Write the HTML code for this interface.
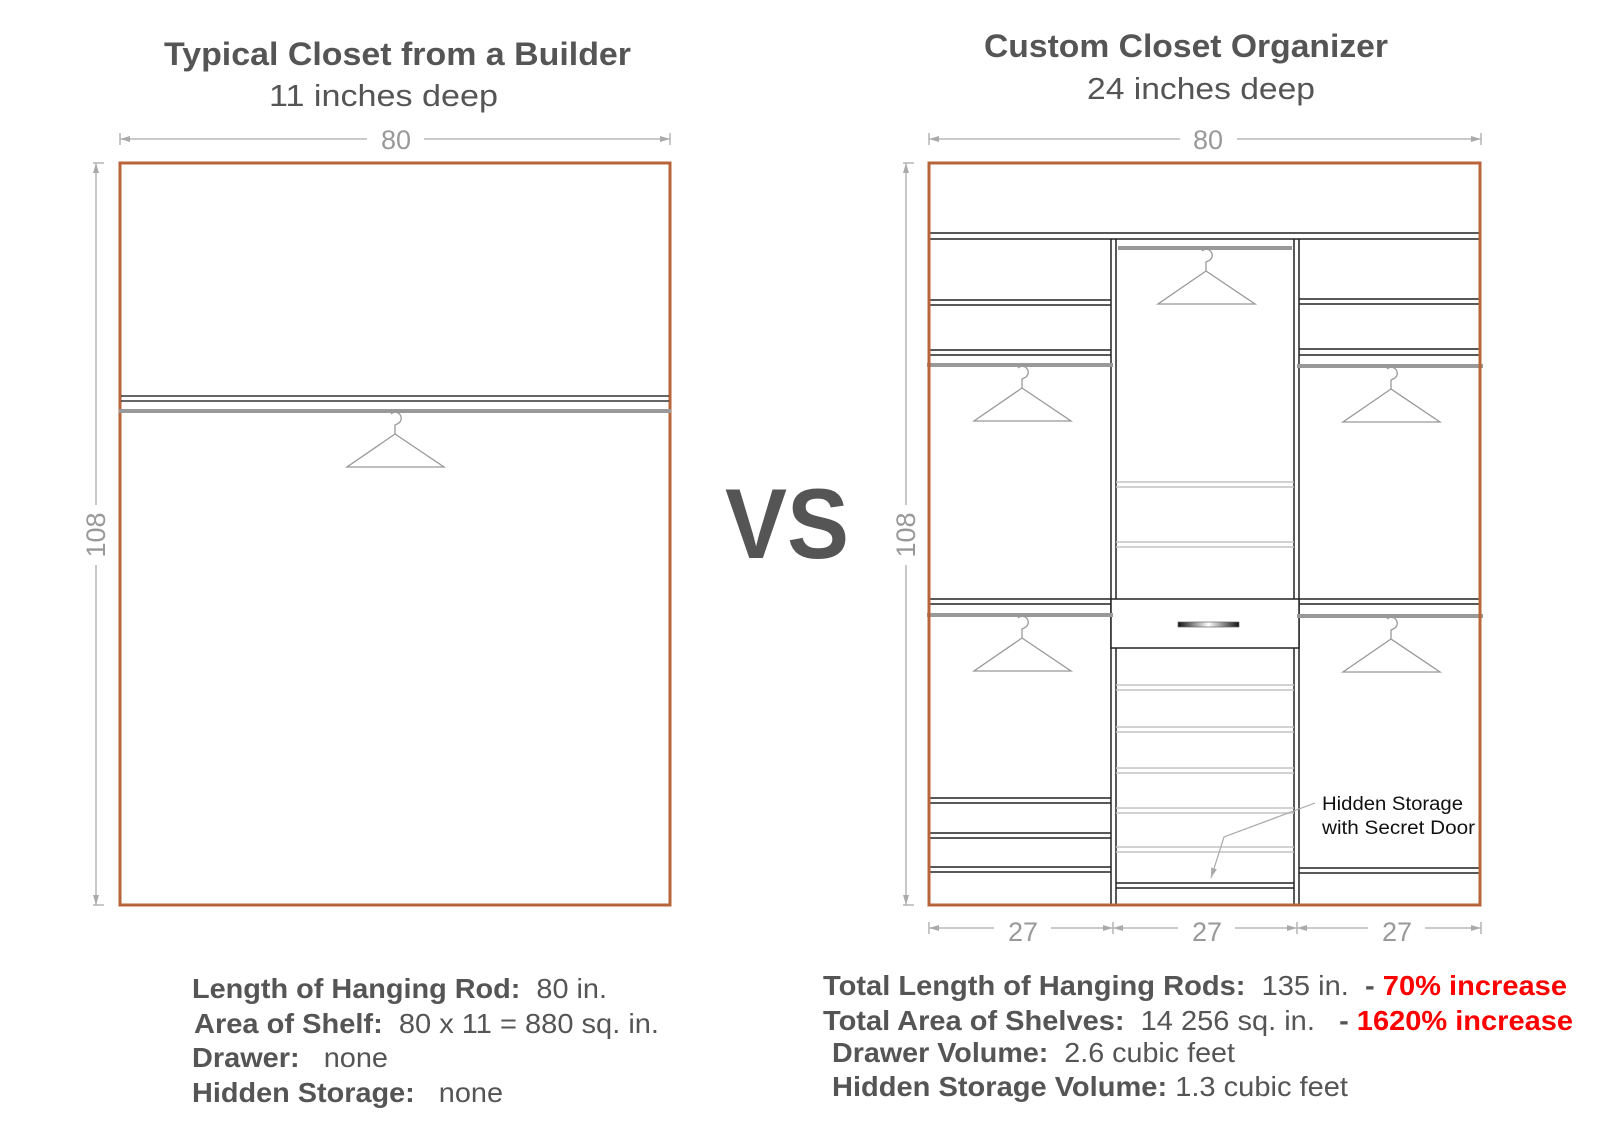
<!DOCTYPE html>
<html><head><meta charset="utf-8"><style>
html,body{margin:0;padding:0;background:#fff;}
svg{display:block;}
text{font-family:"Liberation Sans",Arial,sans-serif;white-space:pre;}
</style></head><body>
<svg width="1600" height="1143" viewBox="0 0 1600 1143" xmlns="http://www.w3.org/2000/svg" xml:space="preserve">
<defs>
<g id="hg" fill="none" stroke="#999" stroke-width="1.3">
<path d="M -4 2 A 6 6 0 1 1 2 12 L 0 13 L 0 22"/>
<path d="M 0 22 L -48 55 L 49 55 Z"/>
</g>
<linearGradient id="hd" x1="0" x2="1" y1="0" y2="0">
<stop offset="0" stop-color="#111"/><stop offset="0.5" stop-color="#fff"/><stop offset="1" stop-color="#111"/>
</linearGradient>
<marker id="ar" viewBox="0 0 10 6" refX="10" refY="3" markerWidth="14" markerHeight="6" markerUnits="userSpaceOnUse" orient="auto"><path d="M0 0 L10 3 L0 6 Z" fill="#aaa"/></marker>
</defs>

<text x="164" y="65" font-size="32" font-weight="bold" fill="#555" textLength="467" lengthAdjust="spacingAndGlyphs">Typical Closet from a Builder</text>
<text x="269" y="106" font-size="31" fill="#555" textLength="229" lengthAdjust="spacingAndGlyphs">11 inches deep</text>
<text x="984" y="57" font-size="32" font-weight="bold" fill="#555" textLength="404" lengthAdjust="spacingAndGlyphs">Custom Closet Organizer</text>
<text x="1087" y="99" font-size="31" fill="#555" textLength="228" lengthAdjust="spacingAndGlyphs">24 inches deep</text>

<text x="787" y="558" font-size="99" font-weight="bold" fill="#555" text-anchor="middle" textLength="124" lengthAdjust="spacingAndGlyphs">VS</text>

<g stroke="#aaa" stroke-width="1.3" fill="none">
<line x1="120" y1="133" x2="120" y2="145"/><line x1="670" y1="133" x2="670" y2="145"/>
<line x1="367" y1="139" x2="120" y2="139" marker-end="url(#ar)"/>
<line x1="424" y1="139" x2="670" y2="139" marker-end="url(#ar)"/>
<line x1="93" y1="163" x2="104" y2="163"/><line x1="93" y1="905" x2="104" y2="905"/>
<line x1="96" y1="505" x2="96" y2="163" marker-end="url(#ar)"/>
<line x1="96" y1="565" x2="96" y2="905" marker-end="url(#ar)"/>
<line x1="929" y1="133" x2="929" y2="145"/><line x1="1481" y1="133" x2="1481" y2="145"/>
<line x1="1180" y1="139" x2="929" y2="139" marker-end="url(#ar)"/>
<line x1="1237" y1="139" x2="1481" y2="139" marker-end="url(#ar)"/>
<line x1="903" y1="163" x2="914" y2="163"/><line x1="903" y1="905" x2="914" y2="905"/>
<line x1="906" y1="505" x2="906" y2="163" marker-end="url(#ar)"/>
<line x1="906" y1="565" x2="906" y2="905" marker-end="url(#ar)"/>
<line x1="929" y1="922" x2="929" y2="934"/><line x1="1113" y1="922" x2="1113" y2="934"/><line x1="1297" y1="922" x2="1297" y2="934"/><line x1="1481" y1="922" x2="1481" y2="934"/>
<line x1="994" y1="928" x2="929" y2="928" marker-end="url(#ar)"/>
<line x1="1051" y1="928" x2="1113" y2="928" marker-end="url(#ar)"/>
<line x1="1178" y1="928" x2="1113" y2="928" marker-end="url(#ar)"/>
<line x1="1235" y1="928" x2="1297" y2="928" marker-end="url(#ar)"/>
<line x1="1368" y1="928" x2="1297" y2="928" marker-end="url(#ar)"/>
<line x1="1425" y1="928" x2="1481" y2="928" marker-end="url(#ar)"/>
</g>
<g font-size="27" fill="#999" text-anchor="middle">
<text x="396" y="149">80</text>
<text x="1208" y="149">80</text>
<text x="1023" y="941">27</text>
<text x="1207" y="941">27</text>
<text x="1397" y="941">27</text>
<text transform="translate(105 535) rotate(-90)" x="0" y="0">108</text>
<text transform="translate(915 535) rotate(-90)" x="0" y="0">108</text>
</g>

<rect x="120" y="163" width="550" height="742" fill="none" stroke="#b8643a" stroke-width="3"/>
<g stroke="#333" stroke-width="1.5">
<line x1="121" y1="396" x2="669" y2="396"/><line x1="121" y1="401" x2="669" y2="401"/>
</g>
<line x1="119" y1="411" x2="671" y2="411" stroke="#999" stroke-width="4"/>
<use href="#hg" x="395" y="412"/>

<g stroke="#222" stroke-width="1.5" fill="none">
<line x1="929" y1="233" x2="1480" y2="233"/><line x1="929" y1="239" x2="1480" y2="239"/>
<line x1="1111" y1="239" x2="1111" y2="905"/><line x1="1116" y1="239" x2="1116" y2="599"/><line x1="1116" y1="648" x2="1116" y2="905"/>
<line x1="1294" y1="239" x2="1294" y2="599"/><line x1="1294" y1="648" x2="1294" y2="905"/><line x1="1299" y1="239" x2="1299" y2="905"/>
<line x1="929" y1="300" x2="1111" y2="300"/><line x1="929" y1="305" x2="1111" y2="305"/>
<line x1="929" y1="350" x2="1111" y2="350"/><line x1="929" y1="355" x2="1111" y2="355"/>
<line x1="929" y1="599" x2="1111" y2="599"/><line x1="929" y1="604" x2="1111" y2="604"/>
<line x1="929" y1="798" x2="1111" y2="798"/><line x1="929" y1="803" x2="1111" y2="803"/>
<line x1="929" y1="833" x2="1111" y2="833"/><line x1="929" y1="838" x2="1111" y2="838"/>
<line x1="929" y1="867" x2="1111" y2="867"/><line x1="929" y1="872" x2="1111" y2="872"/>
<line x1="1299" y1="299" x2="1480" y2="299"/><line x1="1299" y1="304" x2="1480" y2="304"/>
<line x1="1299" y1="349" x2="1480" y2="349"/><line x1="1299" y1="355" x2="1480" y2="355"/>
<line x1="1299" y1="599" x2="1480" y2="599"/><line x1="1299" y1="604" x2="1480" y2="604"/>
<line x1="1299" y1="868" x2="1480" y2="868"/><line x1="1299" y1="873" x2="1480" y2="873"/>
<line x1="1116" y1="883" x2="1294" y2="883"/><line x1="1116" y1="888" x2="1294" y2="888"/>
<rect x="1111" y="599" width="188" height="49" fill="#fff"/>
</g>
<g stroke="#c4c4c4" stroke-width="1.5">
<line x1="1116" y1="482" x2="1294" y2="482"/><line x1="1116" y1="487" x2="1294" y2="487"/>
<line x1="1116" y1="542" x2="1294" y2="542"/><line x1="1116" y1="547" x2="1294" y2="547"/>
<line x1="1116" y1="685" x2="1294" y2="685"/><line x1="1116" y1="690" x2="1294" y2="690"/>
<line x1="1116" y1="727" x2="1294" y2="727"/><line x1="1116" y1="732" x2="1294" y2="732"/>
<line x1="1116" y1="768" x2="1294" y2="768"/><line x1="1116" y1="773" x2="1294" y2="773"/>
<line x1="1116" y1="808" x2="1294" y2="808"/><line x1="1116" y1="813" x2="1294" y2="813"/>
<line x1="1116" y1="847" x2="1294" y2="847"/><line x1="1116" y1="852" x2="1294" y2="852"/>
</g>
<rect x="1178" y="622" width="61" height="5" fill="url(#hd)" stroke="#666" stroke-width="0.7"/>
<g stroke="#999" stroke-width="4">
<line x1="1118" y1="248" x2="1292" y2="248"/>
<line x1="927" y1="365" x2="1113" y2="365"/>
<line x1="1297" y1="366" x2="1483" y2="366"/>
<line x1="927" y1="615" x2="1113" y2="615"/>
<line x1="1297" y1="616" x2="1483" y2="616"/>
</g>
<use href="#hg" x="1206" y="249"/>
<use href="#hg" x="1022" y="366"/>
<use href="#hg" x="1391" y="367"/>
<use href="#hg" x="1022" y="616"/>
<use href="#hg" x="1391" y="617"/>
<rect x="929" y="163" width="551" height="742" fill="none" stroke="#b8643a" stroke-width="3"/>

<polyline points="1315,803 1224,837 1211,878" fill="none" stroke="#aaa" stroke-width="1.2" marker-end="url(#ar)"/>
<text x="1322" y="810" font-size="19" fill="#111" textLength="141" lengthAdjust="spacingAndGlyphs">Hidden Storage</text>
<text x="1322" y="834" font-size="19" fill="#111" textLength="153" lengthAdjust="spacingAndGlyphs">with Secret Door</text>

<g font-size="28" fill="#555">
<text x="192" y="998" textLength="415" lengthAdjust="spacingAndGlyphs"><tspan font-weight="bold">Length of Hanging Rod:</tspan>&#160; 80 in.</text>
<text x="194" y="1033" textLength="465" lengthAdjust="spacingAndGlyphs"><tspan font-weight="bold">Area of Shelf:</tspan>&#160; 80 x 11 = 880 sq. in.</text>
<text x="192" y="1067" textLength="196" lengthAdjust="spacingAndGlyphs"><tspan font-weight="bold">Drawer:</tspan>&#160;&#160; none</text>
<text x="192" y="1102" textLength="311" lengthAdjust="spacingAndGlyphs"><tspan font-weight="bold">Hidden Storage:</tspan>&#160;&#160; none</text>
</g>
<g font-size="28" fill="#555">
<text x="823" y="995" textLength="744" lengthAdjust="spacingAndGlyphs"><tspan font-weight="bold">Total Length of Hanging Rods:</tspan>&#160; 135 in.&#160;&#160;<tspan font-weight="bold">- </tspan><tspan font-weight="bold" fill="#f00">70% increase</tspan></text>
<text x="823" y="1030" textLength="750" lengthAdjust="spacingAndGlyphs"><tspan font-weight="bold">Total Area of Shelves:</tspan>&#160; 14 256 sq. in.&#160;&#160;&#160;<tspan font-weight="bold">- </tspan><tspan font-weight="bold" fill="#f00">1620% increase</tspan></text>
<text x="832" y="1062" textLength="403" lengthAdjust="spacingAndGlyphs"><tspan font-weight="bold">Drawer Volume:</tspan>&#160; 2.6 cubic feet</text>
<text x="832" y="1096" textLength="516" lengthAdjust="spacingAndGlyphs"><tspan font-weight="bold">Hidden Storage Volume:</tspan> 1.3 cubic feet</text>
</g>
</svg>
</body></html>
